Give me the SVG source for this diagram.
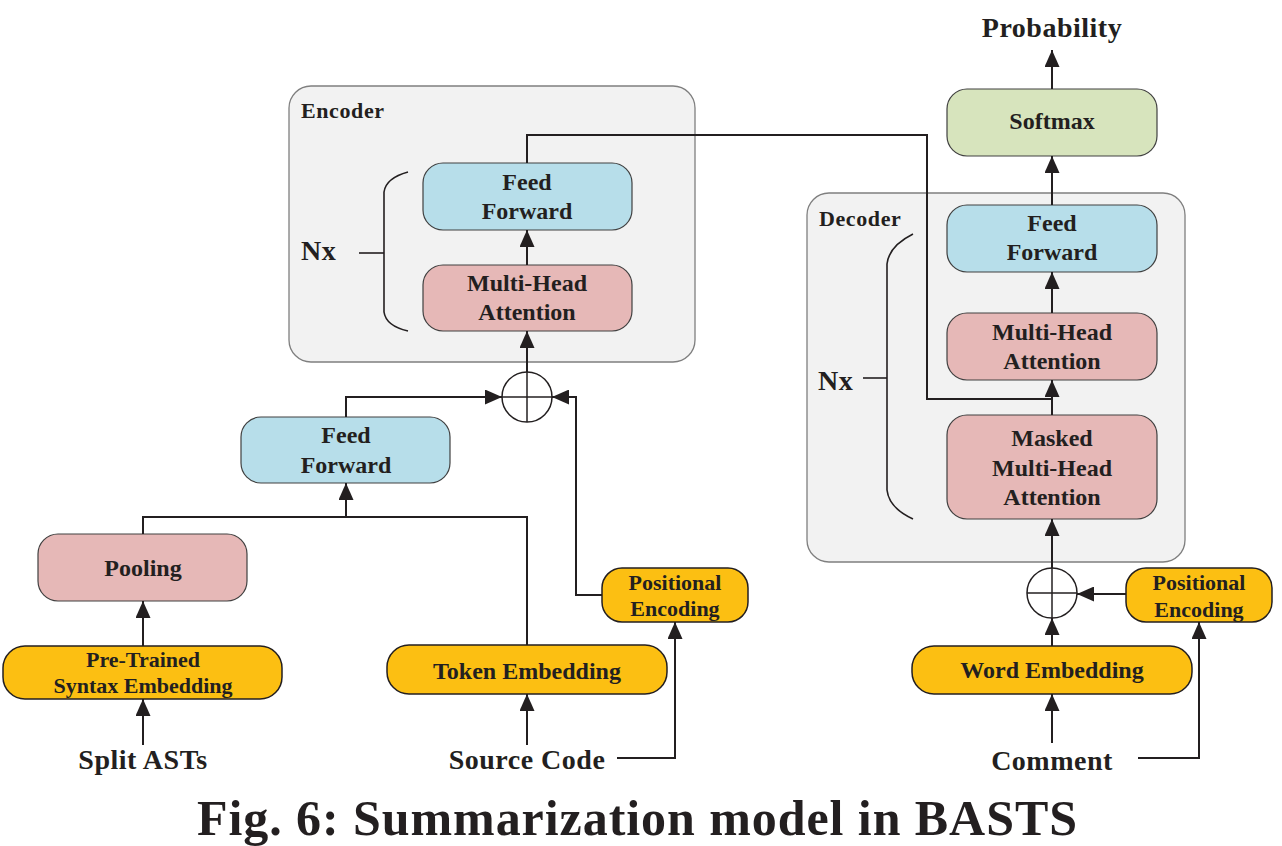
<svg xmlns="http://www.w3.org/2000/svg" width="1282" height="846" viewBox="0 0 1282 846">
<defs>
<marker id="ah" markerUnits="userSpaceOnUse" markerWidth="17" markerHeight="15" refX="17" refY="7.5" orient="auto">
<path d="M0,0 L17,7.5 L0,15 z" fill="#231f20"/>
</marker>
<style>
text{font-family:"Liberation Serif","Times New Roman",serif;font-weight:bold;fill:#231f20}
.c{text-anchor:middle}
.n{font-size:24px}
.s{font-size:22px}
.b{font-size:28px;letter-spacing:0.5px}
.lbl{font-size:22px;letter-spacing:0.6px}
.cont{fill:#f2f2f2;stroke:#7f7f7f;stroke-width:1.3}
.ff{fill:#b7deea;stroke:#404040;stroke-width:1.2}
.at{fill:#e6b8b7;stroke:#404040;stroke-width:1.2}
.ye{fill:#fcbf12;stroke:#231f20;stroke-width:1.5}
.gr{fill:#d7e4bd;stroke:#404040;stroke-width:1.2}
.ln{fill:none;stroke:#231f20;stroke-width:2}
.ar{fill:none;stroke:#231f20;stroke-width:2;marker-end:url(#ah)}
.br{fill:none;stroke:#231f20;stroke-width:1.6}
.sum{fill:none;stroke:#231f20;stroke-width:1.5}
</style>
</defs>
<rect width="1282" height="846" fill="#ffffff"/>

<g id="encoder">
<rect class="cont" x="289" y="86" width="406" height="276" rx="22"/>
<text class="lbl" x="301" y="118">Encoder</text>
<path class="br" d="M408,172 Q386,178 384,192 L384,312 Q386,326 408,331"/>
<line class="br" x1="359" y1="253" x2="384" y2="253"/>
<text class="b" x="301" y="260">Nx</text>
</g>

<g id="enc-ff">
<rect class="ff" x="423" y="163" width="209" height="67" rx="20"/>
<text class="n c" x="527" y="190">Feed</text>
<text class="n c" x="527" y="219">Forward</text>
</g>
<g id="enc-mha">
<rect class="at" x="423" y="265" width="209" height="66" rx="20"/>
<text class="n c" x="527" y="291">Multi-Head</text>
<text class="n c" x="527" y="320">Attention</text>
</g>

<g id="enc-sum">
<circle class="sum" cx="527" cy="397" r="25"/>
<line class="sum" x1="502" y1="397" x2="552" y2="397"/>
<line class="sum" x1="527" y1="372" x2="527" y2="422"/>
</g>

<g id="left-ff">
<rect class="ff" x="241" y="417" width="209" height="66" rx="20"/>
<text class="n c" x="346" y="443">Feed</text>
<text class="n c" x="346" y="473">Forward</text>
</g>
<g id="pooling">
<rect class="at" x="38" y="534" width="209" height="67" rx="20"/>
<text class="n c" x="143" y="576">Pooling</text>
</g>
<g id="pretrained">
<rect class="ye" x="3" y="646" width="279" height="53" rx="22"/>
<text class="s c" x="143" y="667">Pre-Trained</text>
<text class="s c" x="143" y="693">Syntax Embedding</text>
</g>
<g id="token-emb">
<rect class="ye" x="387" y="645" width="280" height="49" rx="22"/>
<text class="n c" x="527" y="679">Token Embedding</text>
</g>
<g id="enc-pe">
<rect class="ye" x="602" y="568" width="146" height="54" rx="20"/>
<text class="s c" x="675" y="590">Positional</text>
<text class="s c" x="675" y="616">Encoding</text>
</g>
<g id="split-asts"><text class="b c" x="143" y="769">Split ASTs</text></g>
<g id="source-code"><text class="b c" x="527" y="769">Source Code</text></g>

<g id="decoder">
<rect class="cont" x="807" y="193" width="378" height="369" rx="22"/>
<text class="lbl" x="819" y="226">Decoder</text>
<path class="br" d="M913,234 Q889,246 887,264 L887,490 Q889,508 913,519"/>
<line class="br" x1="863" y1="378" x2="887" y2="378"/>
<text class="b" x="818" y="390">Nx</text>
</g>
<g id="softmax">
<rect class="gr" x="947" y="89" width="210" height="67" rx="20"/>
<text class="n c" x="1052" y="129">Softmax</text>
</g>
<g id="probability"><text class="b c" x="1052" y="37">Probability</text></g>
<g id="dec-ff">
<rect class="ff" x="947" y="205" width="210" height="67" rx="20"/>
<text class="n c" x="1052" y="231">Feed</text>
<text class="n c" x="1052" y="260">Forward</text>
</g>
<g id="dec-mha">
<rect class="at" x="947" y="313" width="210" height="67" rx="20"/>
<text class="n c" x="1052" y="340">Multi-Head</text>
<text class="n c" x="1052" y="369">Attention</text>
</g>
<g id="dec-mmha">
<rect class="at" x="947" y="415" width="210" height="104" rx="20"/>
<text class="n c" x="1052" y="446">Masked</text>
<text class="n c" x="1052" y="476">Multi-Head</text>
<text class="n c" x="1052" y="505">Attention</text>
</g>
<g id="dec-sum">
<circle class="sum" cx="1052" cy="593" r="25"/>
<line class="sum" x1="1027" y1="593" x2="1077" y2="593"/>
<line class="sum" x1="1052" y1="568" x2="1052" y2="618"/>
</g>
<g id="dec-pe">
<rect class="ye" x="1126" y="568" width="146" height="54" rx="20"/>
<text class="s c" x="1199" y="590">Positional</text>
<text class="s c" x="1199" y="617">Encoding</text>
</g>
<g id="word-emb">
<rect class="ye" x="912" y="646" width="280" height="48" rx="22"/>
<text class="n c" x="1052" y="678">Word Embedding</text>
</g>
<g id="comment"><text class="b c" x="1052" y="770">Comment</text></g>

<g id="connectors">
<line class="ar" x1="143" y1="745" x2="143" y2="699"/>
<line class="ar" x1="143" y1="646" x2="143" y2="601"/>
<polyline class="ln" points="143,534 143,517 527,517 527,645"/>
<line class="ar" x1="346" y1="517" x2="346" y2="483"/>
<polyline class="ar" points="346,417 346,397 502,397"/>
<line class="ar" x1="527" y1="745" x2="527" y2="694"/>
<polyline class="ar" points="617,758 675,758 675,622"/>
<polyline class="ar" points="602,595 576,595 576,397 552,397"/>
<line class="ar" x1="527" y1="372" x2="527" y2="331"/>
<line class="ar" x1="527" y1="265" x2="527" y2="230"/>
<polyline class="ln" points="527,163 527,135 927,135 927,399 1052,399"/>
<line class="ar" x1="1052" y1="743" x2="1052" y2="694"/>
<polyline class="ar" points="1138,758 1199,758 1199,622"/>
<line class="ar" x1="1052" y1="646" x2="1052" y2="618"/>
<line class="ar" x1="1126" y1="594" x2="1077" y2="594"/>
<line class="ar" x1="1052" y1="568" x2="1052" y2="519"/>
<line class="ar" x1="1052" y1="415" x2="1052" y2="380"/>
<line class="ar" x1="1052" y1="313" x2="1052" y2="272"/>
<line class="ar" x1="1052" y1="205" x2="1052" y2="156"/>
<line class="ar" x1="1052" y1="89" x2="1052" y2="50"/>
</g>

<g id="caption">
<text x="197" y="835" style="font-size:50px" textLength="880" lengthAdjust="spacing">Fig. 6: Summarization model in BASTS</text>
</g>
</svg>
